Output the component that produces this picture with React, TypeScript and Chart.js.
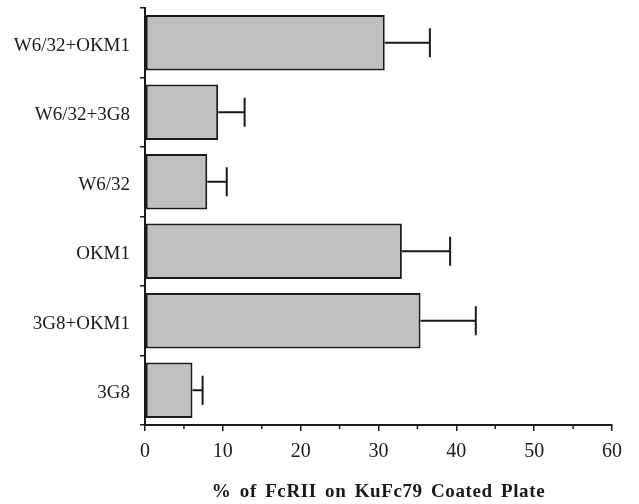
import React, { useEffect, useRef } from "react";
import { Chart, registerables } from "chart.js";

Chart.register(...registerables);

const categories = ["W6/32+OKM1", "W6/32+3G8", "W6/32", "OKM1", "3G8+OKM1", "3G8"];
const values = [30.8, 9.4, 8.0, 33.0, 35.4, 6.1];
const errors = [5.8, 3.4, 2.5, 6.2, 7.1, 1.3];
const xTicks = [0, 10, 20, 30, 40, 50, 60];
const minorTicks = [5, 15, 25, 35, 45, 55];
const xTitle = "% of FcRII on KuFc79 Coated Plate";

const ink = "#1a1a1a";

const errorBarPlugin = {
  id: "errorBars",
  afterDatasetsDraw(chart: any) {
    const meta = chart.getDatasetMeta(0);
    const xs = chart.scales.x;
    const ctx = chart.ctx;
    ctx.save();
    ctx.strokeStyle = ink;
    ctx.lineWidth = 2;
    meta.data.forEach((bar: any, i: number) => {
      const x0 = xs.getPixelForValue(values[i]);
      const x1 = xs.getPixelForValue(values[i] + errors[i]);
      const y = bar.y;
      const half = bar.height * 0.26;
      ctx.beginPath();
      ctx.moveTo(x0, y);
      ctx.lineTo(x1, y);
      ctx.moveTo(x1, y - half);
      ctx.lineTo(x1, y + half);
      ctx.stroke();
    });
    // minor ticks on x axis
    const bottom = chart.chartArea.bottom;
    ctx.lineWidth = 1.5;
    minorTicks.forEach((v) => {
      const x = xs.getPixelForValue(v);
      ctx.beginPath();
      ctx.moveTo(x, bottom);
      ctx.lineTo(x, bottom + 4);
      ctx.stroke();
    });
    ctx.restore();
  },
  afterDraw(chart: any) {
    const ctx = chart.ctx;
    const { left, right } = chart.chartArea;
    ctx.save();
    ctx.fillStyle = ink;
    ctx.font = "bold 19px 'Liberation Serif'";
    ctx.textAlign = "center";
    ctx.textBaseline = "middle";
    try {
      (ctx as any).letterSpacing = "0.6px";
      (ctx as any).wordSpacing = "3px";
    } catch (e) {}
    ctx.fillText(xTitle, (left + right) / 2, 492);
    ctx.restore();
  },
};

export default function App() {
  const ref = useRef<HTMLCanvasElement>(null);
  useEffect(() => {
    if (!ref.current) return;
    const chart = new Chart(ref.current, {
      type: "bar",
      data: {
        labels: categories,
        datasets: [
          {
            data: values,
            backgroundColor: "#c0c0c0",
            borderColor: ink,
            borderWidth: 2,
            borderSkipped: false,
            barPercentage: 0.8,
            categoryPercentage: 1,
          },
        ],
      },
      options: {
        indexAxis: "y",
        animation: false,
        responsive: false,
        layout: { padding: { left: 0, top: 8, right: 27, bottom: 0 } },
        plugins: { legend: { display: false }, tooltip: { enabled: false } },
        scales: {
          y: {
            type: "category",
            offset: true,
            grid: {
              offset: true,
              drawOnChartArea: false,
              tickLength: 5,
              color: ink,
              lineWidth: 1.5,
            },
            border: { display: true, color: ink, width: 2 },
            ticks: {
              color: ink,
              padding: 10,
              labelOffset: 3,
              font: { family: "Liberation Serif", size: 19 },
            },
            afterFit(scale: any) {
              scale.width = 145;
              scale.paddingTop = 0;
              scale.paddingBottom = 0;
            },
          },
          x: {
            type: "linear",
            min: 0,
            max: 60,
            afterBuildTicks(scale: any) {
              scale.ticks = xTicks.map((v) => ({ value: v }));
            },
            grid: {
              drawOnChartArea: false,
              tickLength: 6,
              color: ink,
              lineWidth: 1.5,
            },
            border: { display: true, color: ink, width: 2 },
            ticks: {
              color: ink,
              padding: 9,
              font: { family: "Liberation Serif", size: 20 },
            },
            afterFit(scale: any) {
              scale.height = 79;
              scale.paddingLeft = 0;
              scale.paddingRight = 0;
            },
          },
        },
      },
      plugins: [errorBarPlugin],
    });
    return () => chart.destroy();
  }, []);
  return (
    <div style={{ position: "fixed", left: 0, top: 0, width: 639, height: 504, background: "#fff" }}>
      <canvas ref={ref} width={639} height={504} />
    </div>
  );
}
